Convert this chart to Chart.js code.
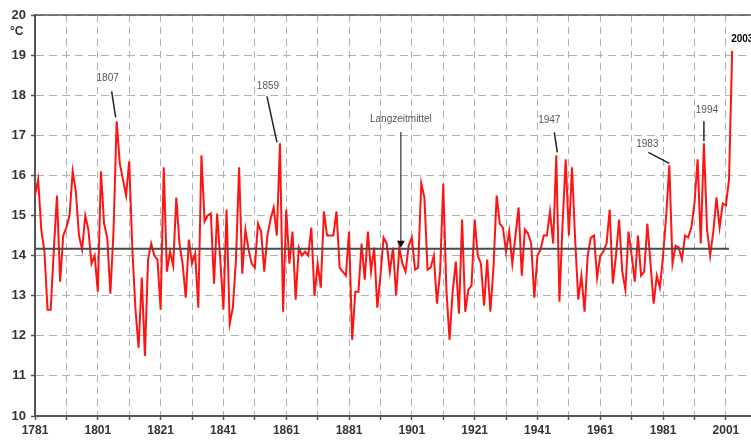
<!DOCTYPE html>
<html lang="de">
<head>
<meta charset="UTF-8">
<title>Temperatur 1781-2003</title>
<script src="https://cdn.jsdelivr.net/npm/chart.js"></script>
<style>
  body { margin: 0; background: #fff; }
  #wrap { width: 751px; height: 441px; position: relative; }
</style>
</head>
<body>
<div id="wrap"><canvas id="chart"></canvas></div>
<script>
// Yearly values, °C, starting 1781 (one row = ten years)
const firstYear = 1781;
const temps = [
  15.5, 15.9, 14.65, 14.1, 12.65, 12.65, 14.15, 15.5, 13.35, 14.5,
  14.7, 15.0, 16.1, 15.6, 14.5, 14.15, 15.0, 14.65, 13.8, 14.0,
  13.1, 16.1, 14.8, 14.45, 13.05, 14.6, 17.35, 16.3, 15.9, 15.5,
  16.35, 14.15, 12.65, 11.7, 13.45, 11.5, 13.9, 14.3, 14.0, 13.9,
  12.65, 16.2, 13.6, 14.1, 13.75, 15.45, 14.3, 13.8, 12.95, 14.4,
  13.8, 14.05, 12.7, 16.5, 14.85, 15.0, 15.05, 13.3, 15.05, 13.9,
  12.65, 15.15, 12.3, 12.7, 13.9, 16.2, 13.55, 14.65, 14.15, 13.8,
  13.7, 14.8, 14.6, 13.6, 14.5, 14.9, 15.2, 14.5, 16.8, 12.6,
  15.15, 13.8, 14.6, 12.9, 14.2, 14.0, 14.1, 14.0, 14.7, 13.0,
  13.8, 13.2, 15.1, 14.5, 14.5, 14.5, 15.1, 13.7, 13.6, 13.5,
  14.6, 11.9, 13.1, 13.1, 14.3, 13.4, 14.6, 13.6, 14.2, 12.7,
  13.5, 14.45, 14.3, 13.6, 14.2, 13.0, 14.2, 13.8, 13.6, 14.25,
  14.45, 13.65, 13.7, 15.8, 15.45, 13.65, 13.7, 14.0, 12.8, 13.6,
  15.8, 13.15, 11.9, 13.1, 13.85, 12.55, 14.9, 12.6, 13.15, 13.25,
  14.9, 14.0, 13.8, 12.75, 13.9, 12.6, 13.7, 15.5, 14.8, 14.7,
  14.1, 14.6, 13.8, 14.5, 15.2, 13.5, 14.65, 14.55, 14.3, 12.95,
  14.0, 14.15, 14.5, 14.5, 15.1, 14.3, 16.5, 12.85, 14.8, 16.4,
  14.5, 16.2, 14.4, 12.9, 13.5, 12.6, 14.0, 14.45, 14.5, 13.45,
  14.0, 14.1, 14.3, 15.15, 13.3, 14.0, 14.9, 13.6, 13.15, 14.6,
  14.0, 13.35, 14.5, 13.5, 13.6, 14.8, 13.8, 12.8, 13.5, 13.2,
  14.0, 15.0, 16.25, 13.8, 14.25, 14.2, 13.9, 14.5, 14.45, 14.7,
  15.3, 16.4, 14.3, 16.8, 14.65, 14.0, 14.6, 15.45, 14.7, 15.3,
  15.25, 15.9, 19.1
];
const meanValue = 14.17;
const meanYears = [1781, 2002];
const markedYears = [1807, 1859, 1947, 1983, 1994, 2003];
const meanLabel = 'Langzeitmittel';
const meanLabelYear = 1897.5;
const gridYears = [1781, 1791, 1801, 1811, 1821, 1831, 1841, 1851, 1861, 1871, 1881,
                   1891, 1901, 1911, 1921, 1931, 1941, 1951, 1961, 1971, 1981, 1991, 2001];
const yMin = 10, yMax = 20;

const years = temps.map((t, i) => firstYear + i);
const points = years.map((yr, i) => ({x: yr, y: temps[i]}));

// label offsets (px) from the marked point: text, leader end, leader start
const noteLayout = {
  1807: {tx: -9, ty: -43, ex: -5, ey: -30, sx: -1, sy: -4},
  1859: {tx: -12, ty: -57, ex: -13, ey: -47, sx: -3, sy: -1},
  1947: {tx: -7, ty: -35, ex: -2, ey: -23, sx: 1, sy: -3},
  1983: {tx: -22, ty: -21, ex: -21, ey: -13, sx: 0, sy: -2},
  1994: {tx: 3, ty: -33, ex: 0, ey: -22, sx: 0, sy: -2}
};

const annotate = {
  id: 'annotate',
  afterDatasetsDraw(chart) {
    const {ctx, chartArea, scales: {x, y}} = chart;
    ctx.save();
    // top frame line
    ctx.strokeStyle = '#555';
    ctx.lineWidth = 1.5;
    ctx.beginPath();
    ctx.moveTo(chartArea.left, chartArea.top);
    ctx.lineTo(chartArea.right, chartArea.top);
    ctx.stroke();

    ctx.font = '10px "Liberation Sans", Arial, sans-serif';
    ctx.textAlign = 'center';
    ctx.textBaseline = 'middle';
    markedYears.forEach(yr => {
      const v = temps[yr - firstYear];
      const px = x.getPixelForValue(yr), py = y.getPixelForValue(v);
      const l = noteLayout[yr];
      if (l) {
        ctx.strokeStyle = '#222';
        ctx.lineWidth = 1.5;
        ctx.beginPath();
        ctx.moveTo(px + l.sx, py + l.sy);
        ctx.lineTo(px + l.ex, py + l.ey);
        ctx.stroke();
        ctx.fillStyle = '#555';
        ctx.fillText(String(yr), px + l.tx, py + l.ty);
      } else {
        ctx.save();
        ctx.font = 'bold 10px "Liberation Sans", Arial, sans-serif';
        ctx.fillStyle = '#000';
        ctx.textAlign = 'left';
        ctx.fillText(String(yr), px - 1, py - 12);
        ctx.restore();
      }
    });

    // long-term mean label and arrow
    const ax = x.getPixelForValue(meanLabelYear);
    const ay = y.getPixelForValue(meanValue);
    ctx.fillStyle = '#555';
    ctx.fillText(meanLabel, ax, 119);
    ctx.strokeStyle = '#333';
    ctx.lineWidth = 1.2;
    ctx.beginPath();
    ctx.moveTo(ax, 132);
    ctx.lineTo(ax, ay - 6);
    ctx.stroke();
    ctx.fillStyle = '#111';
    ctx.beginPath();
    ctx.moveTo(ax - 4, ay - 8);
    ctx.lineTo(ax + 4, ay - 8);
    ctx.lineTo(ax, ay - 1);
    ctx.closePath();
    ctx.fill();

    // unit under the top tick
    ctx.font = 'bold 12px "Liberation Sans", Arial, sans-serif';
    ctx.fillStyle = '#333';
    ctx.textAlign = 'left';
    ctx.fillText('°C', 10, 32);
    ctx.restore();
  }
};

Chart.defaults.font.family = '"Liberation Sans", Arial, sans-serif';

new Chart(document.getElementById('chart'), {
  type: 'line',
  data: {
    datasets: [
      {
        label: meanLabel,
        data: meanYears.map(yr => ({x: yr, y: meanValue})),
        borderColor: '#4a4a4a',
        borderWidth: 2,
        pointRadius: 0,
        order: 0
      },
      {
        label: 'Temperatur',
        data: points,
        borderColor: '#ff1414',
        borderWidth: 2,
        pointRadius: 0,
        tension: 0,
        order: 1
      }
    ]
  },
  options: {
    responsive: true,
    maintainAspectRatio: false,
    animation: false,
    layout: { padding: { top: 15, left: 0, right: 0, bottom: 0 } },
    plugins: { legend: { display: false }, tooltip: { enabled: false } },
    scales: {
      x: {
        type: 'linear',
        min: 1781,
        max: 2009,
        afterFit: s => { s.height = 25; },
        afterBuildTicks: s => { s.ticks = gridYears.map(v => ({value: v})); },
        ticks: {
          autoSkip: false,
          maxRotation: 0,
          padding: 3,
          color: '#333',
          font: { size: 12, weight: 'bold' },
          callback: v => ((v - firstYear) % 20 === 0 ? String(v) : '')
        },
        grid: { color: '#b0b0b0', lineWidth: 1, tickLength: 4, tickColor: '#555', tickWidth: 1.5, tickBorderDash: [] },
        border: { display: true, color: '#555', width: 2, dash: [7, 5] }
      },
      y: {
        min: yMin,
        max: yMax,
        afterFit: s => { s.width = 35; },
        ticks: {
          stepSize: 1,
          padding: 5,
          color: '#333',
          font: { size: 13, weight: 'bold' }
        },
        grid: { color: '#b0b0b0', lineWidth: 1, tickLength: 4, tickColor: '#555', tickWidth: 1.5, tickBorderDash: [] },
        border: { display: true, color: '#555', width: 2, dash: [8, 5] }
      }
    }
  },
  plugins: [annotate]
});
</script>
</body>
</html>
